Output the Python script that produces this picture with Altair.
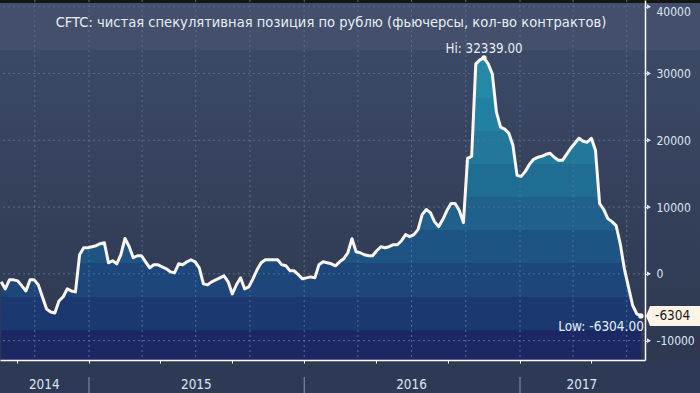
import altair as alt
import pandas as pd

TITLE = "CFTC: чистая спекулятивная позиция по рублю (фьючерсы, кол-во контрактов)"
START = "2014-08-05"  # first weekly CFTC report in view

# weekly net speculative position (contracts)
values = [
    -1200, -2250, -900, -900, -1050, -1800, -2560, -900, -900, -1650,
    -3460, -5260, -5720, -5870, -4060, -3460, -2260, -2560, -2700, 2860,
    3910, 3910, 4060, 4210, 4510, 4660, 1650, 1960, 1500, 2860,
    5300, 4100, 2410, 2710, 2710, 1800, 900, 1350, 1350, 1050,
    750, 300, 150, 1500, 1350, 1800, 2110, 1800, 900, -1500,
    -1650, -1200, -900, -600, -300, -1200, -3010, -1650, -600, -2260,
    -1960, -750, 600, 1650, 2110, 2110, 2110, 2110, 1350, 1200,
    450, 450, -100, -750, -600, -450, -600, 1350, 1800, 1650,
    1500, 1200, 1800, 2260, 3160, 5260, 3310, 3160, 2860, 2710,
    2710, 3460, 4060, 3910, 4060, 4360, 4360, 4960, 5870, 5560,
    5870, 6620, 8870, 9630, 9170, 7820, 7070, 8120, 9480, 10530,
    10530, 9480, 7670, 17300, 17600, 31430, 32040, 32339, 31430, 29930,
    24220, 21960, 21660, 21060, 19250, 14740, 14590, 15340, 16390, 17150,
    17450, 17600, 17900, 18050, 17450, 17000, 17000, 17900, 18800, 19550,
    20300, 19850, 19700, 20300, 18500, 10530, 9630, 8270, 7820, 7220,
    4510, 750, -2000, -4700, -6000, -6304,
]

y_ticks = [-10000, -5000, 0, 5000, 10000, 15000, 20000, 25000, 30000, 35000, 40000]
y_major = [-10000, 0, 10000, 20000, 30000, 40000]
quarter_lines = ["2014-10-01", "2015-01-01", "2015-04-01", "2015-07-01", "2015-10-01",
                 "2016-01-01", "2016-04-01", "2016-07-01", "2016-10-01", "2017-01-01",
                 "2017-04-01", "2017-07-01"]
month_ticks = [(2014, m) for m in range(9, 13)] + [(y, m) for y in (2015, 2016) for m in range(1, 13)] + [(2017, m) for m in range(1, 9)]
year_labels = ["2014", "2015", "2016", "2017"]
year_label_dates = ["2014-10-17", "2015-07-02", "2016-07-01", "2017-04-16"]
year_starts = ["2015-01-01", "2016-01-01", "2017-01-01"]
X_DOMAIN = [(2014, 8, 3), (2017, 8, 1)]
Y_DOMAIN = [-12900, 41000]

df = pd.DataFrame({"date": pd.date_range(START, periods=len(values), freq="7D"), "value": values})
hi = df.loc[[df["value"].idxmax()]].assign(lbl=lambda d: "Hi: " + d["value"].map(lambda v: f"{v:.2f}"))
lo = df.loc[[df["value"].idxmin()]].assign(lbl=lambda d: "Low: " + d["value"].map(lambda v: f"{v:.2f}"),
                                           tag=lambda d: d["value"].map(lambda v: f"{v:.0f}"))

xs = alt.Scale(domain=[alt.DateTime(year=a, month=b, date=c) for a, b, c in X_DOMAIN])
ys = alt.Scale(domain=Y_DOMAIN, nice=False, zero=False)
FONT = "DejaVu Sans Condensed, DejaVu Sans"
TXT = "#dde6f2"

W, H = 645, 360


def X(field):
    return alt.X(field, scale=xs, title=None)


def Y(field):
    return alt.Y(field, scale=ys, title=None)


def band_gradient(bands, top, bottom):
    stops = []
    for y0, y1, col in bands:
        stops.append(alt.GradientStop(color=col, offset=max(0, (y0 - top) / (bottom - top))))
        stops.append(alt.GradientStop(color=col, offset=min(1, (y1 - top) / (bottom - top))))
    return alt.Gradient(gradient="linear", stops=stops, x1=0, x2=0, y1=0, y2=1)


area_bands = [(57, 97, "#2489a7"), (97, 130, "#2281a2"), (130, 163, "#21789b"),
              (163, 197, "#206d94"), (197, 230, "#1f618c"), (230, 263, "#1e5484"),
              (263, 297, "#1d467b"), (297, 330, "#1c3871"), (330, 360, "#1b2864")]
area_grad = band_gradient(area_bands, 57, 360)

bg_grad = alt.Gradient(gradient="linear", x1=0, x2=0, y1=0, y2=1, stops=[
    alt.GradientStop(color="#434f6b", offset=0),
    alt.GradientStop(color="#434f6b", offset=50 / 360),
    alt.GradientStop(color="#3c4965", offset=50 / 360),
    alt.GradientStop(color="#2d3850", offset=1),
])

one = pd.DataFrame({"a": [0]})

bg = alt.Chart(one).mark_rect(fill=bg_grad).encode(
    x=alt.value(0), x2=alt.value(700), y=alt.value(0), y2=alt.value(H))
topstrip = alt.Chart(one).mark_rect(fill="#151515").encode(
    x=alt.value(0), x2=alt.value(700), y=alt.value(0), y2=alt.value(3))

area = alt.Chart(df).mark_area(fill=area_grad).encode(
    x=alt.X("date:T", scale=xs, axis=alt.Axis(
        values=[alt.DateTime(year=y, month=m, date=1) for y, m in month_ticks],
        labels=False, grid=False, title=None, tickSize=3, tickColor="#ffffff",
        domainColor="#ffffff", domainWidth=1.5, zindex=2)),
    y=alt.Y("value:Q", scale=ys, axis=alt.Axis(
        orient="right", values=y_ticks,
        labelExpr="datum.value % 10000 == 0 ? '' + datum.value : ''",
        labelOverlap=False, labelBound=False, labelFlush=8, grid=False, title=None,
        tickSize=4, tickColor="#c8d4e4", domainColor="#ffffff", domainWidth=1.5,
        labelPadding=7, labelColor=TXT, labelFont=FONT, labelFontSize=12, zindex=2)),
    y2=alt.datum(Y_DOMAIN[0]),
)

hgrid = alt.Chart(pd.DataFrame({"v": y_major})).mark_rule(
    color="#51708f", strokeDash=[2, 3], strokeWidth=1).encode(y=Y("v:Q"))
vgrid = alt.Chart(pd.DataFrame({"d": pd.to_datetime(quarter_lines)})).mark_rule(
    color="#51708f", strokeDash=[2, 3], strokeWidth=1).encode(x=X("d:T"))

line = alt.Chart(df).mark_line(color="#fdf6ee", strokeWidth=3, strokeJoin="round").encode(
    x=X("date:T"), y=Y("value:Q"))

dots = alt.Chart(pd.concat([hi, lo])).mark_point(filled=True, size=28, color="#fdf6ee", opacity=1).encode(
    x=X("date:T"), y=Y("value:Q"))

hi_txt = alt.Chart(hi).mark_text(font=FONT, fontSize=13.3, color="#e8eef6", align="center",
                                 baseline="middle", dx=0, dy=-9).encode(
    x=X("date:T"), y=Y("value:Q"), text="lbl:N")
lo_txt = alt.Chart(lo).mark_text(font=FONT, fontSize=13.5, color="#e8eef6", align="right",
                                 baseline="middle", dx=3, dy=11).encode(
    x=X("date:T"), y=Y("value:Q"), text="lbl:N")

tri = alt.Chart(pd.DataFrame({"v": y_major})).mark_point(
    shape="triangle-right", filled=True, size=22, color=TXT, opacity=1).encode(
    x=alt.value(649), y=Y("v:Q"))

callout = alt.Chart(lo).mark_point(
    shape="M -1 0 L -0.85 -0.37 L 1 -0.37 L 1 0.37 L -0.85 0.37 Z",
    filled=True, size=2916, color="#fdf4e8", opacity=1).encode(
    x=alt.value(673), y=Y("value:Q"))
callout_txt = alt.Chart(lo).mark_text(font=FONT, fontSize=13.5, color="#1a1a1a", align="left",
                                      baseline="middle").encode(
    x=alt.value(655), y=Y("value:Q"), text="tag:N")

yr_df = pd.DataFrame({"d": pd.to_datetime(year_label_dates), "t": year_labels})
yr_txt = alt.Chart(yr_df).mark_text(font=FONT, fontSize=13.4, color=TXT, baseline="middle").encode(
    x=X("d:T"), y=alt.value(385), text="t:N")
yr_sep = alt.Chart(pd.DataFrame({"d": pd.to_datetime(year_starts)})).mark_rule(
    color="#8a96ab", strokeWidth=1).encode(
    x=X("d:T"), y=alt.value(377), y2=alt.value(393))

title = alt.Chart(pd.DataFrame({"t": [TITLE]})).mark_text(
    font=FONT, fontSize=14.6, color="#e8eef6", align="center", baseline="middle").encode(
    x=alt.value(331), y=alt.value(23), text="t:N")

chart = alt.layer(
    bg, topstrip, area, hgrid, vgrid, line, dots, hi_txt, lo_txt, tri,
    callout, callout_txt, yr_txt, yr_sep, title
).properties(
    width=W, height=H, background="#2e3a55",
    autosize=alt.AutoSizeParams(type="none"),
    padding={"left": 0, "top": 0, "right": 55, "bottom": 33},
).configure_view(strokeWidth=0)

chart.save("out.html", embed_options={"renderer": "svg", "actions": False})
